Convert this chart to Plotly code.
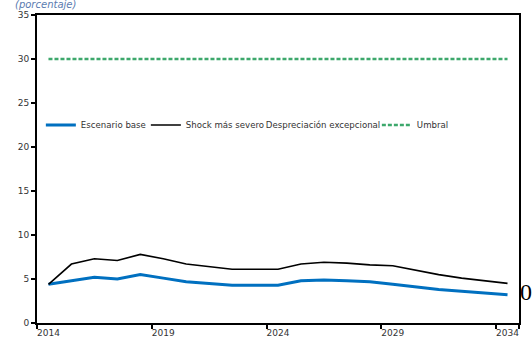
import plotly.graph_objects as go

# Annual series, 2014-2034 (porcentaje)
years = [str(y) for y in range(2014, 2035)]
escenario_base = [4.4, 4.8, 5.2, 5.0, 5.5, 5.1, 4.7, 4.5, 4.3, 4.3, 4.3,
                  4.8, 4.9, 4.8, 4.7, 4.4, 4.1, 3.8, 3.6, 3.4, 3.2]
shock_severo = [4.4, 6.7, 7.3, 7.1, 7.8, 7.3, 6.7, 6.4, 6.1, 6.1, 6.1,
                6.7, 6.9, 6.8, 6.6, 6.5, 6.0, 5.5, 5.1, 4.8, 4.5]
depreciacion = [None] * len(years)
umbral = [30] * len(years)

tick_years = ["2014", "2019", "2024", "2029", "2034"]

BLUE = "#0070C0"
GREEN = "#3DA86C"
FONT = "DejaVu Sans"

fig = go.Figure()
fig.add_trace(go.Scatter(x=years, y=escenario_base, name="Escenario base",
                         mode="lines", line=dict(color=BLUE, width=3),
                         legendwidth=60))
fig.add_trace(go.Scatter(x=years, y=shock_severo, name="Shock más severo",
                         mode="lines", line=dict(color="black", width=1.6),
                         legendwidth=35))
fig.add_trace(go.Scatter(x=years, y=depreciacion, name="Despreciación excepcional",
                         mode="lines", line=dict(color="rgba(0,0,0,0)", width=0),
                         legendwidth=106))
fig.add_trace(go.Scatter(x=years, y=umbral, name="Umbral",
                         mode="lines", line=dict(color=GREEN, width=2.5, dash="4px,2px")))

fig.update_layout(
    width=532, height=337,
    margin=dict(l=37, r=13, t=15, b=14),
    paper_bgcolor="white", plot_bgcolor="white",
    font=dict(family=FONT, size=9, color="#333333"),
    showlegend=True,
    legend=dict(orientation="h", x=0.008, xanchor="left", y=0.643, yanchor="middle",
                bgcolor="rgba(0,0,0,0)", font=dict(family=FONT, size=8.6, color="#333333"),
                itemwidth=30, traceorder="normal"),
    xaxis=dict(type="category", range=[-0.5, len(years) - 0.5],
               tickmode="array", tickvals=tick_years, ticktext=tick_years,
               tickson="boundaries", ticks="outside", ticklen=4, tickwidth=1.5,
               tickangle=0, automargin=False,
               tickcolor="black", showgrid=False, showline=True, linecolor="black",
               linewidth=2, mirror=True, tickfont=dict(size=9, color="#333333")),
    yaxis=dict(range=[0, 35], dtick=5, ticks="outside", ticklen=4, tickwidth=1.5,
               tickcolor="black", showgrid=False, zeroline=False, showline=True,
               linecolor="black", linewidth=2, mirror=True, automargin=False,
               tickfont=dict(size=9, color="#333333")),
    annotations=[
        dict(text="<i>(porcentaje)</i>", xref="paper", yref="paper",
             x=-0.05, y=1.0335, xanchor="left", yanchor="middle", showarrow=False,
             font=dict(family=FONT, size=10, color="#5A7BB0")),
        dict(text="0", xref="paper", yref="paper", x=1.0145, y=0.102,
             xanchor="center", yanchor="middle", showarrow=False,
             font=dict(family="Liberation Serif", size=24, color="black")),
    ],
)

fig.write_html("out.html")
